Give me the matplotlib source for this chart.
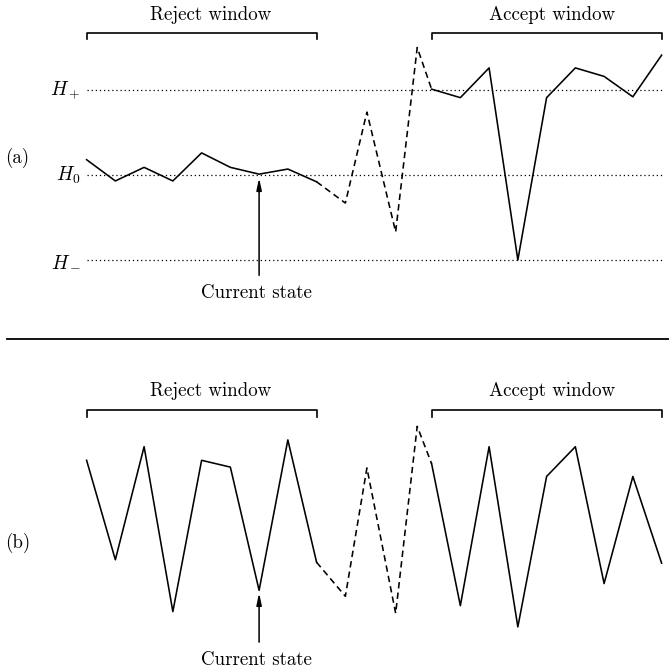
import matplotlib
matplotlib.use("Agg")
import matplotlib.pyplot as plt
from matplotlib.lines import Line2D

plt.rcParams['mathtext.fontset'] = 'cm'
plt.rcParams['axes.formatter.use_mathtext'] = True

# time steps (shared by both panels)
t = [0, 1, 2, 3, 4, 5, 6, 7, 8, 9, 9.75, 10.75, 11.5, 12,
     13, 14, 15, 16, 17, 18, 19, 20]
# panel (a): H0 = 0, H+ = 1, H- = -1
va_ = [0.18, -0.07, 0.09, -0.07, 0.26, 0.09, 0.01, 0.07, -0.08,
       -0.33, 0.74, -0.67, 1.50, 1.01,
       0.91, 1.26, -1.00, 0.91, 1.26, 1.16, 0.92, 1.41]
# panel (b)
vb_ = [0.82, -0.35, 0.98, -0.96, 0.82, 0.74, -0.71, 1.06, -0.38,
       -0.78, 0.73, -0.98, 1.22, 0.78,
       -0.89, 0.98, -1.14, 0.63, 0.98, -0.63, 0.63, -0.39]
h_levels = [1, 0, -1]
h_labels = [r'$H_+$', r'$H_0$', r'$H_-$']
reject_idx = (0, 8)
accept_idx = (13, 21)
current_idx = 6

W, H = 669, 670
fig = plt.figure(figsize=(W / 100, H / 100), dpi=100)
FONT = 'cmr10'
FS = 13.6
LW = 1.15

xl = (-86.6 / 28.75, (669 - 86.6) / 28.75)

def setup(ax):
    ax.set_xlim(*xl)
    ax.axis('off')

def draw_series(ax, v):
    a, b = reject_idx
    c, d = accept_idx
    ax.plot(t[a:b + 1], v[a:b + 1], color='black', lw=LW)
    ax.plot(t[b:c + 1], v[b:c + 1], color='black', lw=LW, ls=(0, (4.0, 2.6)))
    ax.plot(t[c:d + 1], v[c:d + 1], color='black', lw=LW)

def brackets(ax, ytop, ydrop, ytext):
    for (i0, i1), lab, shift in [(reject_idx, 'Reject window', 0.3),
                                  (accept_idx, 'Accept window', 0.2)]:
        x0, x1 = t[i0], t[i1]
        ax.plot([x0, x0, x1, x1], [ydrop, ytop, ytop, ydrop], color='black', lw=1.2)
        ax.text((x0 + x1) / 2 + shift, ytext, lab, family=FONT, fontsize=FS,
                ha='center', va='center')

def current(ax, ytip, ytail, ytext):
    x = t[current_idx]
    ax.annotate('', xy=(x, ytip), xytext=(x, ytail),
                arrowprops=dict(arrowstyle='-|>,head_length=0.7,head_width=0.15',
                                color='black', lw=1.1, shrinkA=0, shrinkB=0))
    ax.text(x - 0.1, ytext, 'Current state', family=FONT, fontsize=FS,
            ha='center', va='center')

# ---- panel (a)
axa = fig.add_axes([0, 1 - 330 / H, 1, 330 / H])
setup(axa)
axa.set_ylim(-155 / 85, 175 / 85)
for lev, lab in zip(h_levels, h_labels):
    axa.plot([t[0], t[-1]], [lev, lev], color='black', lw=0.9, ls=(0, (1, 2.3)))
    axa.text(-0.2, lev, lab, fontsize=FS + 0.5, ha='right', va='center')
draw_series(axa, va_)
brackets(axa, 1.667, 1.596, 1.88)
current(axa, -0.035, -1.18, -1.39)
axa.text(-2.4, 0.2, '(a)', family=FONT, fontsize=FS, ha='center', va='center')

# ---- separator
fig.add_artist(Line2D([7 / W, 1], [1 - 339 / H, 1 - 339 / H], color='black', lw=1.3))

# ---- panel (b)
axb = fig.add_axes([0, 0, 1, 340 / H])
setup(axb)
axb.set_ylim(-140 / 85, 200 / 85)
draw_series(axb, vb_)
brackets(axb, 1.41, 1.33, 1.63)
current(axb, -0.74, -1.32, -1.53)
axb.text(-2.4, -0.15, '(b)', family=FONT, fontsize=FS, ha='center', va='center')

fig.savefig('out.png', dpi=100)
